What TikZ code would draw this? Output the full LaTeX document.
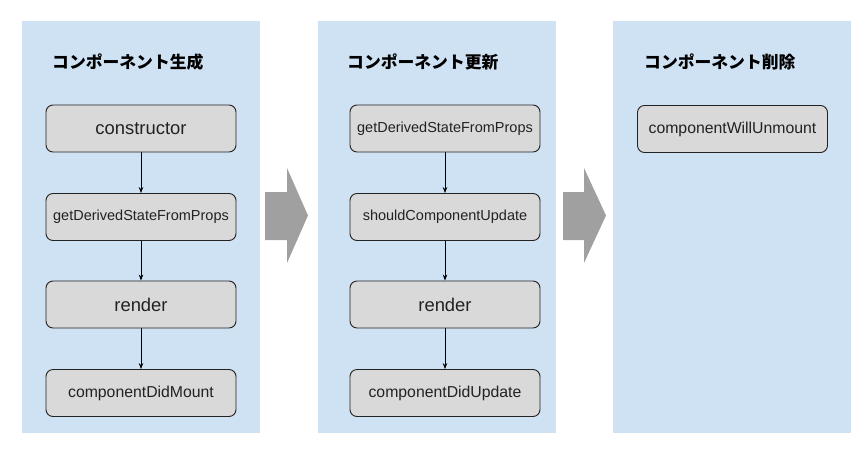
\documentclass[tikz,border=0pt]{standalone}
\usepackage{fontspec}
\setmainfont{Liberation Sans}
\newfontfamily\cjk{Noto Sans CJK JP}
\usetikzlibrary{arrows.meta}
\definecolor{panelblue}{HTML}{CFE2F3}
\definecolor{boxgray}{HTML}{D9D9D9}
\definecolor{bigarrow}{HTML}{A0A0A0}
\definecolor{ink}{HTML}{222222}
\tikzset{
  panel/.style={fill=panelblue, draw=none, minimum width=238pt, minimum height=412pt, inner sep=0pt},
  stepbox/.style={draw=ink, line width=0.9pt, fill=boxgray, rounded corners=7pt, minimum width=190pt, minimum height=47pt, inner sep=0pt, text=ink},
  big/.style={font=\fontsize{18.4}{22}\selectfont},
  mid/.style={font=\fontsize{15.8}{19}\selectfont},
  small/.style={font=\fontsize{14.5}{17}\selectfont},
  paneltitle/.style={anchor=west, inner sep=0pt, text=black, font=\cjk\bfseries\fontsize{16.8}{20}\selectfont},
  conn/.style={draw=black, line width=0.7pt, -{Stealth[length=6pt,width=4.5pt]}},
  flowarrow/.style={fill=bigarrow, draw=none}
}
\begin{document}
\begin{tikzpicture}[x=1pt,y=-1pt]
\useasboundingbox (0,0) rectangle (868,448);
% panels
\node[panel] (p1) at (141,227) {};
\node[panel] (p2) at (436.5,227) {};
\node[panel] (p3) at (732,227) {};
% titles
\node[paneltitle] (t1) at (52,62) {コンポーネント生成};
\node[paneltitle] (t2) at (347,62) {コンポーネント更新};
\node[paneltitle] (t3) at (644,62) {コンポーネント削除};
% panel 1 boxes
\node[stepbox,big] (a1) at (141,128.5) {constructor};
\node[stepbox,small] (a2) at (141,217) {getDerivedStateFromProps};
\node[stepbox,big] (a3) at (141,304.5) {render};
\node[stepbox,mid] (a4) at (141,393) {componentDidMount};
% panel 2 boxes
\node[stepbox,small] (b1) at (445,128.5) {getDerivedStateFromProps};
\node[stepbox,small] (b2) at (445,217) {shouldComponentUpdate};
\node[stepbox,big] (b3) at (445,304.5) {render};
\node[stepbox,mid] (b4) at (445,393) {componentDidUpdate};
% panel 3 box
\node[stepbox,mid] (c1) at (732.5,129) {componentWillUnmount};
% connectors
\draw[conn] (a1.south) -- (a2.north);
\draw[conn] (a2.south) -- (a3.north);
\draw[conn] (a3.south) -- (a4.north);
\draw[conn] (b1.south) -- (b2.north);
\draw[conn] (b2.south) -- (b3.north);
\draw[conn] (b3.south) -- (b4.north);
% big flow arrows
\fill[flowarrow] (265,192) -- (287,192) -- (287,168) -- (308,215.5) -- (287,263) -- (287,240) -- (265,240) -- cycle;
\fill[flowarrow] (563,192) -- (584,192) -- (584,168) -- (606,215.5) -- (584,263) -- (584,240) -- (563,240) -- cycle;
\end{tikzpicture}
\end{document}
